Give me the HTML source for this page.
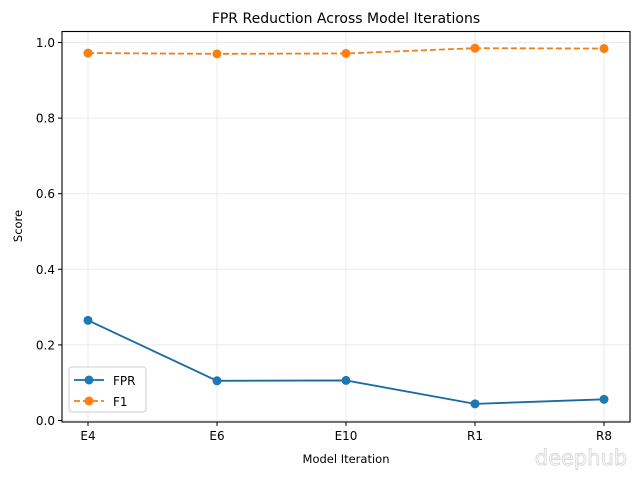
<!DOCTYPE html>
<html><head><meta charset="utf-8"><style>
body{margin:0;background:#fff;}
svg text{font-family:"DejaVu Sans","Liberation Sans",sans-serif;fill:#000;}
</style></head><body>
<svg id="chart" width="640" height="476" xmlns="http://www.w3.org/2000/svg">
<g id="grid"></g>
<g id="axes"></g>
<g id="series"></g>
<text x="346" y="23" font-size="14" text-anchor="middle">FPR Reduction Across Model Iterations</text>
<text x="346" y="463" font-size="11.5" text-anchor="middle">Model Iteration</text>
<text x="22" y="226" font-size="11.5" text-anchor="middle" transform="rotate(-90 22 226)">Score</text>
<g>
<rect x="69" y="367" width="77" height="45" rx="3" fill="#fff" fill-opacity="0.8" stroke="#ccc"/>
<g>
<line x1="74" y1="380" x2="104" y2="380" stroke="#1a6aa3" stroke-width="1.8"/><circle cx="89" cy="380" r="4.5" fill="#1f77b4"/>
<text x="113" y="385" font-size="12">FPR</text></g>
<g>
<line x1="74" y1="401" x2="104" y2="401" stroke="#f07f1a" stroke-width="1.8" stroke-dasharray="6,3"/><circle cx="89" cy="401" r="4.5" fill="#ff7f0e"/>
<text x="113" y="406" font-size="12">F1</text></g>
</g>
<text x="581" y="465" font-size="21" text-anchor="middle" style="fill:#fff" stroke="#d8d8d8" stroke-width="0.9">deephub</text>
</svg>
<script>
const categories=["E4","E6","E10","R1","R8"];
const fprValues=[0.265,0.105,0.106,0.044,0.056];
const f1Values=[0.972,0.970,0.971,0.985,0.984];
const yTicks=[0.0,0.2,0.4,0.6,0.8,1.0];
const NS="http://www.w3.org/2000/svg";
const L=62,R=630,T=31.5,B=422;
const xS=i=>88+i*129;
const yS=v=>420.5-v*378;
function mk(tag,at,p){const e=document.createElementNS(NS,tag);for(const k in at)e.setAttribute(k,at[k]);p.appendChild(e);return e;}
const grid=document.getElementById('grid'),axes=document.getElementById('axes'),ser=document.getElementById('series');
categories.forEach((c,i)=>{
 const g=mk('line',{x1:xS(i),x2:xS(i),y1:T,y2:B,stroke:'#ebebeb','stroke-width':1},grid);
 
 
 const t=mk('line',{x1:xS(i),x2:xS(i),y1:B,y2:B+4,stroke:'#000'},axes);
 
 
 const lb=mk('text',{x:xS(i),y:B+18,'font-size':12,'text-anchor':'middle'},axes);
 lb.textContent=c;
 
 
});
yTicks.forEach(v=>{
 const g=mk('line',{x1:L,x2:R,y1:yS(v),y2:yS(v),stroke:'#ebebeb','stroke-width':1},grid);
 
 
 const t=mk('line',{x1:L-4,x2:L,y1:yS(v),y2:yS(v),stroke:'#000'},axes);
 
 
 const lb=mk('text',{x:L-7,y:yS(v)+4.5,'font-size':12,'text-anchor':'end'},axes);
 lb.textContent=v.toFixed(1);
 
 
});
const frame=mk('rect',{x:L,y:T,width:R-L,height:B-T,fill:'none',stroke:'#000','stroke-width':1.1},axes);


function series(vals,color,lineColor,dash,name){
 const pts=vals.map((v,i)=>xS(i)+','+yS(v)).join(' ');
 const pl=mk('polyline',{points:pts,fill:'none',stroke:lineColor,'stroke-width':1.8},ser);
 if(dash)pl.setAttribute('stroke-dasharray',dash);
 
 
 vals.forEach((v,i)=>{
  const c=mk('circle',{cx:xS(i),cy:yS(v),r:4.5,fill:color},ser);
  
  
 });
}
series(fprValues,'#1f77b4','#1a6aa3',null,'fpr');
series(f1Values,'#ff7f0e','#f07f1a','6,3','f1');
</script>
</body></html>
